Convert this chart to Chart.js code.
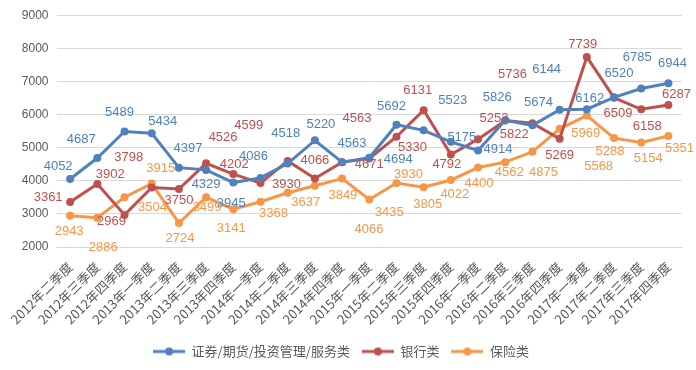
<!DOCTYPE html>
<html>
<head>
<meta charset="utf-8">
<script src="https://cdn.jsdelivr.net/npm/chart.js@4"></script>
<style>
  html, body { margin: 0; padding: 0; background: #fff; }
  #wrap { width: 696px; height: 370px; }
</style>
</head>
<body>
<div id="wrap"><canvas id="chartCanvas" width="696" height="370"></canvas></div>
<script>
const quarters = ['2012年二季度', '2012年三季度', '2012年四季度',
    '2013年一季度', '2013年二季度', '2013年三季度', '2013年四季度',
    '2014年一季度', '2014年二季度', '2014年三季度', '2014年四季度',
    '2015年一季度', '2015年二季度', '2015年三季度', '2015年四季度',
    '2016年一季度', '2016年二季度', '2016年三季度', '2016年四季度',
    '2017年一季度', '2017年二季度', '2017年三季度', '2017年四季度'];

const securities = [4052, 4687, 5489, 5434, 4397, 4329, 3945, 4086, 4518, 5220, 4563, 4694,
    5692, 5523, 5175, 4914, 5826, 5674, 6144, 6162, 6520, 6785, 6944];
const banks = [3361, 3902, 2969, 3798, 3750, 4526, 4202, 3930, 4599, 4066, 4563, 4671,
    5330, 6131, 4792, 5253, 5822, 5736, 5269, 7739, 6509, 6158, 6287];
const insurance = [2943, 2886, 3504, 3915, 2724, 3499, 3141, 3368, 3637, 3849, 4066, 3435,
    3930, 3805, 4022, 4400, 4562, 4875, 5568, 5969, 5288, 5154, 5351];

const seriesNames = ['证券/期货/投资管理/服务类', '银行类', '保险类'];
const yTicks = [2000, 3000, 4000, 5000, 6000, 7000, 8000, 9000];

const colors = ['#4f81bd', '#c0504d', '#f79646'];

// where each value label sits relative to its point (px)
const labelShift = [
    [[-12,-13],[-16,-19],[-5,-19],[11,-12],[9,-19],[0,15],[-2,21],[-7,-22],[-2,-30],[6,-16],[10,-19],[29,2],
     [-5,-18],[29,-30],[11,-4],[20,-1],[-8,-23],[6,-23],[-13,-40],[3,-11],[5,-24],[-4,-31],[4,-20]],
    [[-22,-5],[13,-10],[-13,7],[-23,-30],[0,11],[17,-26],[1,-10],[26,1],[-39,-36],[0,-18],[15,-44],[0,6],
     [16,11],[-6,-20],[-4,10],[16,-21],[9,14],[-20,-49],[0,17],[-4,-13],[4,16],[6,17],[8,-11]],
    [[-1,16],[6,30],[28,10],[9,-15],[1,15],[1,10],[-2,19],[13,12],[18,10],[28,10],[27,51],[20,13],
     [12,-9],[4,17],[4,14],[1,16],[4,10],[11,21],[39,38],[-1,18],[-4,13],[7,16],[11,12]]
];

function legendMarker(color) {
    const c = document.createElement('canvas');
    c.width = 32; c.height = 10;
    const g = c.getContext('2d');
    g.strokeStyle = color; g.lineWidth = 3;
    g.beginPath(); g.moveTo(0, 5); g.lineTo(32, 5); g.stroke();
    g.fillStyle = color;
    g.beginPath(); g.arc(16, 5, 4, 0, Math.PI * 2); g.fill();
    return c;
}

const valueLabels = {
    id: 'valueLabels',
    afterDatasetsDraw(chart) {
        const ctx = chart.ctx;
        ctx.save();
        ctx.font = '13px "Liberation Sans", Arial, sans-serif';
        ctx.textAlign = 'center';
        ctx.textBaseline = 'middle';
        chart.data.datasets.forEach((ds, di) => {
            const meta = chart.getDatasetMeta(di);
            ctx.fillStyle = ds.borderColor;
            meta.data.forEach((pt, i) => {
                const s = labelShift[di][i];
                ctx.fillText(String(ds.data[i]), pt.x + s[0], pt.y + s[1]);
            });
        });
        ctx.restore();
    }
};

const allSeries = [securities, banks, insurance];
const markers = colors.map(legendMarker);

const chart = new Chart(document.getElementById('chartCanvas').getContext('2d'), {
    type: 'line',
    data: {
        labels: quarters,
        datasets: allSeries.map((vals, k) => ({
            label: seriesNames[k],
            data: vals,
            borderColor: colors[k],
            backgroundColor: colors[k],
            borderWidth: 3,
            pointRadius: 4,
            pointBorderWidth: 0,
            pointBackgroundColor: colors[k],
            tension: 0
        }))
    },
    options: {
        responsive: false,
        animation: false,
        layout: { padding: { top: 15, right: 14, left: 0, bottom: 2 } },
        plugins: {
            tooltip: { enabled: false },
            legend: {
                position: 'bottom',
                labels: {
                    usePointStyle: true,
                    pointStyleWidth: 32,
                    padding: 12,
                    color: '#595959',
                    font: { size: 13, family: '"Noto Sans CJK SC", sans-serif' },
                    generateLabels(ch) {
                        return ch.data.datasets.map((ds, i) => ({
                            text: ds.label,
                            fillStyle: ds.borderColor,
                            strokeStyle: ds.borderColor,
                            fontColor: '#595959',
                            pointStyle: markers[i],
                            lineWidth: 0,
                            datasetIndex: i
                        }));
                    }
                }
            }
        },
        scales: {
            x: {
                offset: true,
                grid: { display: false, drawTicks: false },
                border: { display: true, color: '#d9d9d9', width: 1 },
                ticks: {
                    minRotation: 45, maxRotation: 45, autoSkip: false, padding: 12,
                    color: '#595959',
                    font: { size: 13, family: '"Noto Sans CJK SC", sans-serif' }
                },
                afterFit(scale) { scale.height = 86; }
            },
            y: {
                min: 2000, max: 9000,
                afterBuildTicks(scale) { scale.ticks = yTicks.map(v => ({ value: v })); },
                grid: { color: '#d9d9d9', lineWidth: 1, drawTicks: false },
                border: { display: false },
                ticks: {
                    padding: 8,
                    color: '#595959',
                    font: { size: 12, family: '"Liberation Sans", Arial, sans-serif' },
                    callback: v => String(v)
                },
                afterFit(scale) { scale.width = 44; }
            }
        }
    },
    plugins: [valueLabels]
});
</script>
</body>
</html>
